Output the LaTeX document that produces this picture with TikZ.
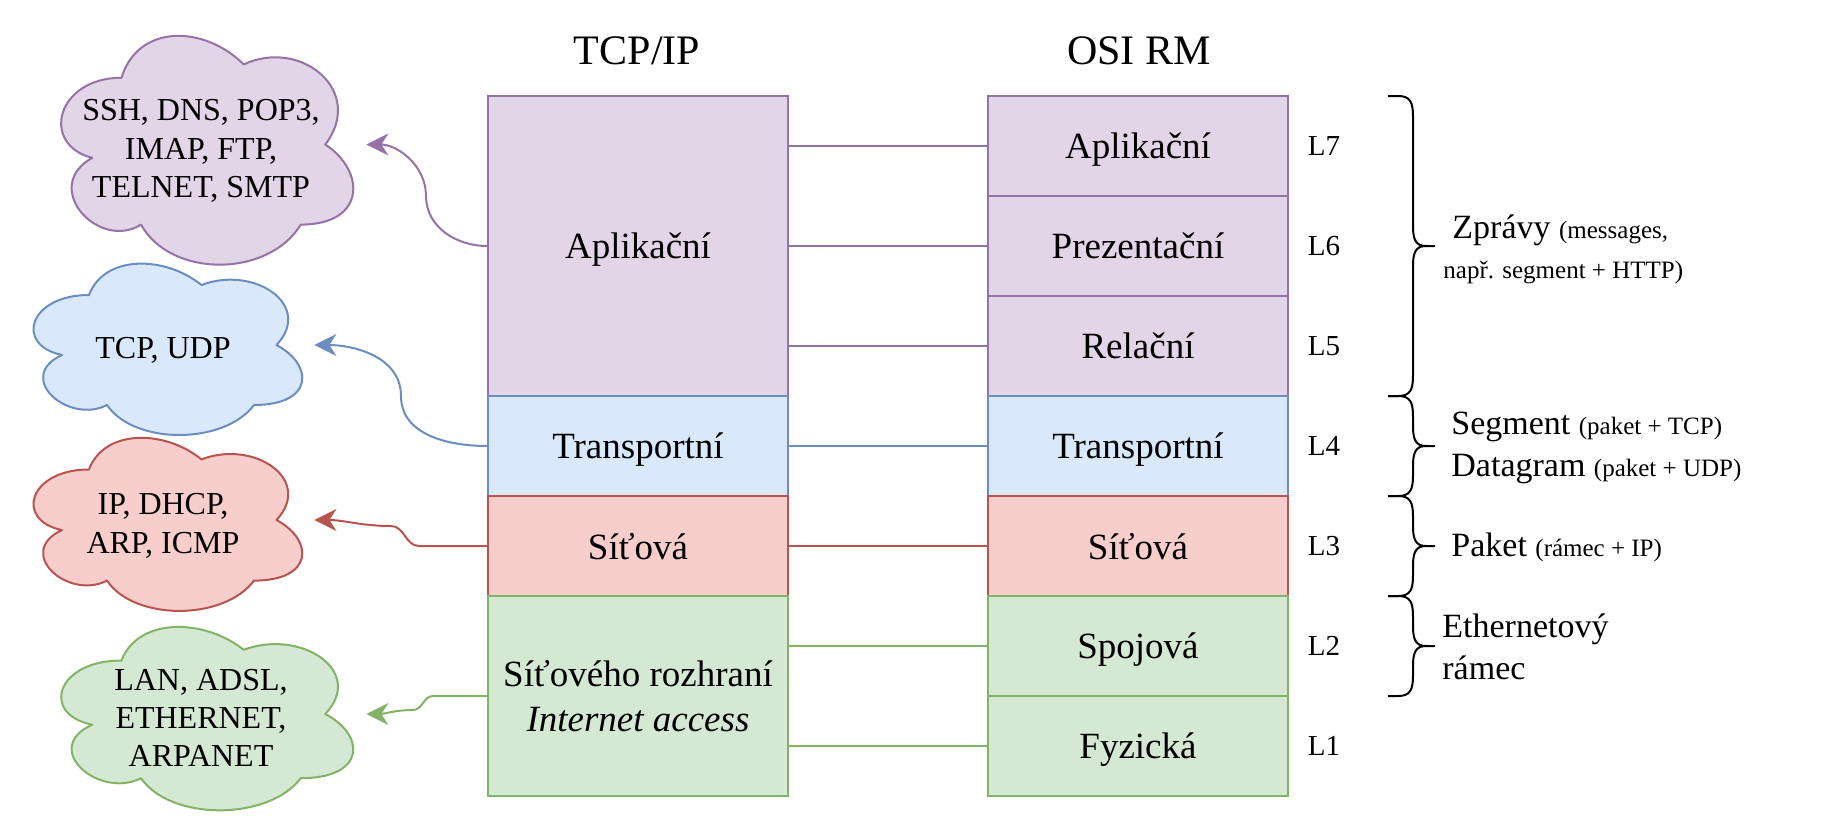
\documentclass[tikz,border=0pt]{standalone}
\usepackage{fontspec}
\setmainfont{Liberation Serif}
\usetikzlibrary{arrows.meta}
\definecolor{pF}{HTML}{E1D5E7}\definecolor{pD}{HTML}{9673A6}
\definecolor{bF}{HTML}{DAE8FC}\definecolor{bD}{HTML}{6C8EBF}
\definecolor{rF}{HTML}{F8CECC}\definecolor{rD}{HTML}{B85450}
\definecolor{gF}{HTML}{D5E8D4}\definecolor{gD}{HTML}{82B366}
\newcommand\bigf{\fontsize{17}{20.4}\selectfont}
\newcommand\smf{\fontsize{12.5}{15}\selectfont}
% draw.io cloud outline: x0, y0, w, h (px), style
\newcommand\cloudshape[5]{%
  \path[#5, shift={(#1,#2)}, xscale=#3, yscale=#4]
   (0.25,0.25) .. controls (0.05,0.25) and (0,0.5) .. (0.16,0.55)
   .. controls (0,0.66) and (0.18,0.9) .. (0.31,0.8)
   .. controls (0.4,1) and (0.7,1) .. (0.8,0.8)
   .. controls (1,0.8) and (1,0.6) .. (0.875,0.5)
   .. controls (1,0.3) and (0.8,0.1) .. (0.625,0.2)
   .. controls (0.5,0.05) and (0.3,0.05) .. (0.25,0.25) -- cycle;}
% curly brace: top, middle, bottom (px)
\newcommand\bracepath[3]{%
  \draw[bracestroke] (1388,#1) -- (1398,#1) .. controls (1410,#1) and (1413,#1+6) .. (1413,#1+20)
   -- (1413,#2-20) .. controls (1413,#2-6) and (1416,#2) .. (1426,#2) -- (1435,#2)
   (1426,#2) .. controls (1416,#2) and (1413,#2+6) .. (1413,#2+20)
   -- (1413,#3-20) .. controls (1413,#3-6) and (1410,#3) .. (1398,#3) -- (1388,#3);}
\begin{document}
\begin{tikzpicture}[x=0.5pt,y=-0.5pt,
  layer/.style={draw, line width=1pt, minimum width=150pt, inner sep=0pt, align=center,
                text depth=0pt, font=\fontsize{18.5}{22.2}\selectfont},
  pp/.style={fill=pF, draw=pD}, bb/.style={fill=bF, draw=bD},
  rr/.style={fill=rF, draw=rD}, gg/.style={fill=gF, draw=gD},
  coltitle/.style={inner sep=0pt, text depth=0pt, font=\fontsize{21}{25}\selectfont},
  lab/.style={inner sep=0pt, text depth=0pt, font=\fontsize{14.5}{17}\selectfont},
  cbox/.style={inner sep=0pt},
  ctext/.style={inner sep=0pt, align=center, font=\fontsize{16}{19.2}\selectfont},
  cloudline/.style={line width=1pt, line join=round},
  conn/.style={line width=1pt, -{Stealth[length=11pt,width=11pt,inset=3.5pt]}},
  hline/.style={line width=1pt},
  bracestroke/.style={line width=1pt, black, line join=round},
  btext/.style={anchor=base west, inner sep=0pt}
]
\useasboundingbox (0,0) rectangle (1828,835);
\fill[white] (0,0) rectangle (1828,835);

% titles
\node[coltitle] (tcpT) at (637,51) {TCP/IP};
\node[coltitle] (osiT) at (1139,51) {OSI RM};

% clouds (outline, bounding node, text)
\cloudshape{40}{11}{326}{267}{pp,cloudline}
\cloudshape{14}{245}{300}{200}{bb,cloudline}
\cloudshape{14}{419}{300}{202}{rr,cloudline}
\cloudshape{40}{607}{326}{214}{gg,cloudline}
\node[cbox, minimum width=163pt, minimum height=133.5pt] (cApp) at (203,144.5) {};
\node[cbox, minimum width=150pt, minimum height=100pt] (cTr) at (164,345) {};
\node[cbox, minimum width=150pt, minimum height=101pt] (cNet) at (164,520) {};
\node[cbox, minimum width=163pt, minimum height=107pt] (cLink) at (203,714) {};
\node[ctext] (cAppT) at (201,151) {SSH, DNS, POP3,\\IMAP, FTP,\\TELNET, SMTP};
\node[ctext] (cTrT) at (163,350) {TCP, UDP};
\node[ctext] (cNetT) at (163,526) {IP, DHCP,\\ARP, ICMP};
\node[ctext] (cLinkT) at (201,718) {LAN, ADSL,\\ETHERNET,\\ARPANET};

% TCP/IP column
\node[layer, pp, minimum height=150pt] (tApp) at (638,246) {Aplikační};
\node[layer, bb, minimum height=50pt] (tTr) at (638,446) {Transportní};
\node[layer, rr, minimum height=50pt] (tNet) at (638,546) {Síťová};
\node[layer, gg, minimum height=100pt] (tLink) at (638,696) {Síťového rozhraní\\\textit{Internet access}};

% OSI column
\node[layer, pp, minimum height=50pt] (oL7) at (1138,146) {Aplikační};
\node[layer, pp, minimum height=50pt] (oL6) at (1138,246) {Prezentační};
\node[layer, pp, minimum height=50pt] (oL5) at (1138,346) {Relační};
\node[layer, bb, minimum height=50pt] (oL4) at (1138,446) {Transportní};
\node[layer, rr, minimum height=50pt] (oL3) at (1138,546) {Síťová};
\node[layer, gg, minimum height=50pt] (oL2) at (1138,646) {Spojová};
\node[layer, gg, minimum height=50pt] (oL1) at (1138,746) {Fyzická};

% links between columns
\draw[hline, pD] (tApp.east |- oL7.west) -- (oL7.west);
\draw[hline, pD] (tApp.east |- oL6.west) -- (oL6.west);
\draw[hline, pD] (tApp.east |- oL5.west) -- (oL5.west);
\draw[hline, bD] (tTr.east) -- (oL4.west);
\draw[hline, rD] (tNet.east) -- (oL3.west);
\draw[hline, gD] (tLink.east |- oL2.west) -- (oL2.west);
\draw[hline, gD] (tLink.east |- oL1.west) -- (oL1.west);

% layer labels
\node[lab] (l7) at (1324,146) {L7};
\node[lab] (l6) at (1324,246) {L6};
\node[lab] (l5) at (1324,346) {L5};
\node[lab] (l4) at (1324,446) {L4};
\node[lab] (l3) at (1324,546) {L3};
\node[lab] (l2) at (1324,646) {L2};
\node[lab] (l1) at (1324,746) {L1};

% arrows to clouds
\draw[conn, pD] (tApp.west) to[out=180,in=-90] ++(-61,-50) to[out=90,in=0] (cApp.east);
\draw[conn, bD] (tTr.west) to[out=180,in=-90] ++(-86,-50) to[out=90,in=0] (cTr.east);
\draw[conn, rD] (tNet.west) -- ++(-68,0) to[out=180,in=0] ++(-28,-20) to[out=180,in=0] (cNet.east);
\draw[conn, gD] (tLink.west) -- ++(-54,0) to[out=180,in=0] ++(-20,14) to[out=180,in=0] (cLink.east);

% braces
\bracepath{96}{246}{396}
\bracepath{396}{446}{496}
\bracepath{496}{546}{596}
\bracepath{596}{646}{696}

% brace texts
\node[btext] (zpr) at (1452,238) {\bigf Zprávy \smf(messages,};
\node[btext] (napr) at (1443,278) {\smf např. segment + HTTP)};
\node[btext] (seg) at (1451,434) {\bigf Segment \smf(paket + TCP)};
\node[btext] (dgr) at (1451,476) {\bigf Datagram \smf(paket + UDP)};
\node[btext] (pak) at (1451,556) {\bigf Paket \smf(rámec + IP)};
\node[btext] (eth) at (1442,637) {\bigf Ethernetový};
\node[btext] (ram) at (1442,679) {\bigf rámec};
\end{tikzpicture}
\end{document}
